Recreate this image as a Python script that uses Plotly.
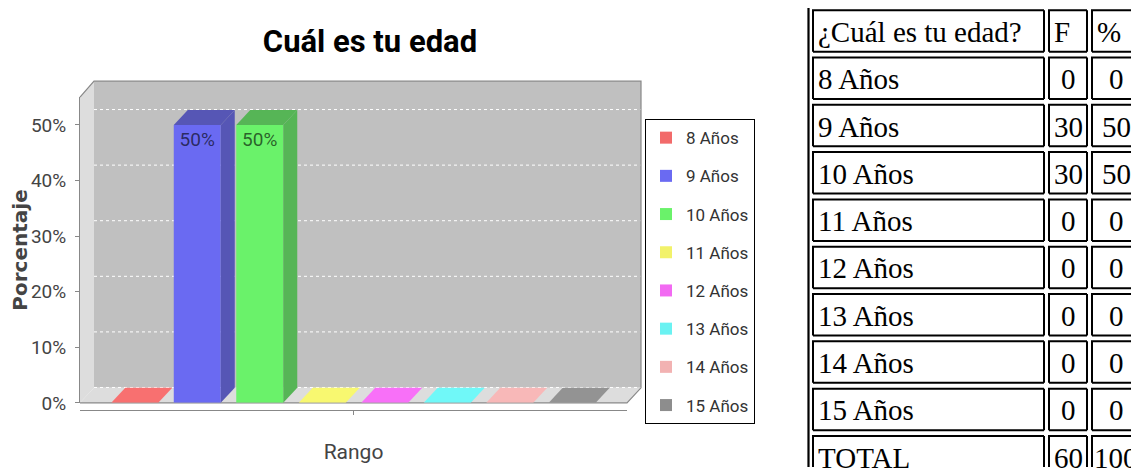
import plotly.graph_objects as go

# ---------------- data ----------------
categories = ["8 Años", "9 Años", "10 Años", "11 Años", "12 Años", "13 Años", "14 Años", "15 Años"]
frecuencia = [0, 30, 30, 0, 0, 0, 0, 0]
porcentaje = [0, 50, 50, 0, 0, 0, 0, 0]
total_label = "TOTAL"
total_f = 60
total_pct = 100
table_header = ["¿Cuál es tu edad?", "F", "%"]
chart_title = "Cuál es tu edad"
x_title = "Rango"
y_title = "Porcentaje"
x_category = "Rango"
y_ticks = [0, 0.1, 0.2, 0.3, 0.4, 0.5]
base_colors = ["#FF5555", "#5555FF", "#55FF55", "#FFFF55", "#FF55FF", "#55FFFF", "#FFAFAF", "#808080"]

# ---------------- geometry helpers ----------------
# target picture is 1139x475; page keeps the default 8px body margin
REF_W, REF_H = 1139, 475
PAGE_H = 487                 # captured page height (scaled back to 475)
K = PAGE_H / REF_H
M = 8
FW, FH = REF_W - 2 * M, PAGE_H - 2 * M
XMAX, YMAX = REF_W - M, (PAGE_H - M) / K
def px(x): return (x - M) / FW
def py(y): return 1 - (y * K - M) / FH

def hex2rgb(h):
    h = h.lstrip("#")
    return tuple(int(h[i:i + 2], 16) for i in (0, 2, 4))

def mix(c, bg, a=0.8):
    return "rgb(%d,%d,%d)" % tuple(round(a * c[i] + (1 - a) * bg[i]) for i in range(3))

def darker(c):
    return tuple(int(v * 0.7) for v in c)

WALL = (192, 192, 192)
FLOOR = (221, 221, 221)

X_L, X_R = 80, 627          # front plot area (reference px)
Y_TOP, Y_BOT = 97, 403
DX, DY = 14, 15             # 3D depth offset (reference px)
Y_MAX = 0.55
BARGAP, GROUPGAP = 0.086, 0.248
n = len(categories)

dxu = DX * 1.0 / (X_R - X_L)
dyu = DY * Y_MAX / (Y_BOT - Y_TOP)
slot = (1 - BARGAP) / n
bw = slot * (1 - GROUPGAP)

fig = go.Figure()
shapes = []
annotations = []

def poly(pts, closed=True):
    s = "M " + " L ".join("%f,%f" % (px(x), py(y)) for x, y in pts)
    return s + (" Z" if closed else "")

# ---------------- 3D box (walls / floor) ----------------
shapes.append(dict(type="path", xref="paper", yref="paper",
                   path=poly([(X_L + DX, Y_TOP - DY - 1), (X_R + DX, Y_TOP - DY - 1),
                              (X_R + DX, Y_BOT - DY), (X_L + DX, Y_BOT - DY)]),
                   fillcolor="#C0C0C0", line=dict(width=0), layer="below"))
shapes.append(dict(type="path", xref="paper", yref="paper",
                   path=poly([(X_L, Y_TOP), (X_L + DX, Y_TOP - DY - 1), (X_L + DX, Y_BOT - DY), (X_L, Y_BOT)]),
                   fillcolor="#DDDDDD", line=dict(width=0), layer="below"))
shapes.append(dict(type="path", xref="paper", yref="paper",
                   path=poly([(X_L, Y_BOT), (X_L + DX, Y_BOT - DY), (X_R + DX, Y_BOT - DY), (X_R, Y_BOT)]),
                   fillcolor="#DDDDDD", line=dict(width=0), layer="below"))
# grid lines on the back wall
for t in y_ticks:
    shapes.append(dict(type="line", xref="paper", x0=px(X_L + DX), x1=px(X_R + DX),
                       yref="y", ysizemode="pixel", yanchor=t, y0=DY * K, y1=DY * K,
                       line=dict(color="white", width=1, dash="dot"), layer="below"))
# outline
shapes.append(dict(type="path", xref="paper", yref="paper",
                   path=poly([(X_L, Y_TOP), (X_L + DX, Y_TOP - DY - 1), (X_R + DX, Y_TOP - DY - 1),
                              (X_R + DX, Y_BOT - DY), (X_R, Y_BOT), (X_L, Y_BOT)], closed=False),
                   line=dict(color="#888888", width=1.2), layer="below"))

sans = "Roboto, Lato, sans-serif"

# ---------------- bars ----------------
for i, (cat, p) in enumerate(zip(categories, porcentaje)):
    base = hex2rgb(base_colors[i])
    v = p / 100
    fig.add_trace(go.Bar(
        x=[x_category], y=[v], name=cat, legendgroup=cat,
        marker=dict(color=mix(base, WALL), line=dict(width=0)),
        text=["%d%%" % p if p > 0 else ""], textposition="inside", insidetextanchor="end",
        textangle=0, constraintext="none",
        insidetextfont=dict(family=sans, size=19, color="rgba(0,0,0,0.62)"),
        hovertemplate="%{fullData.name}: %{y:.0%}<extra></extra>",
    ))
    xl = -(1 - BARGAP) / 2 + i * slot + slot * GROUPGAP / 2
    xr = xl + bw
    if v > 0:
        side = mix(darker(base), WALL)
        shapes.append(dict(type="path", xref="x", yref="y", layer="above",
                           path="M %f,%f L %f,%f L %f,%f L %f,%f Z" % (
                               xr, 0, xr + dxu, dyu, xr + dxu, v + dyu, xr, v),
                           fillcolor=side, line=dict(width=0)))
        topc = side
    else:
        topc = mix(base, FLOOR)
    shapes.append(dict(type="path", xref="x", yref="y", layer="above",
                       path="M %f,%f L %f,%f L %f,%f L %f,%f Z" % (
                           xl, v, xl + dxu, v + dyu, xr + dxu, v + dyu, xr, v),
                       fillcolor=topc, line=dict(width=0)))

# ---------------- table ----------------
serif = "Liberation Serif, Times New Roman, serif"
TFS = 29
row_top0, row_pitch, row_h = 10, 47.35, 41.5
cols = [(813, 1044), (1049, 1087), (1092, 1145)]
num_centers = [None, 1068.5, 1116]

def box_path(a, top, b, bot):
    segs = []
    yb = min(bot, YMAX)
    xb = min(b, XMAX)
    segs.append([(a, yb), (a, top), (xb, top)])
    if b <= XMAX:
        segs.append([(b, top), (b, yb)])
    if bot <= YMAX:
        segs.append([(a, bot), (xb, bot)])
    return " ".join(poly(s, closed=False) for s in segs)

shapes.append(dict(type="path", xref="paper", yref="paper",
                   path=box_path(808.5, 4, 2000, 2000),
                   line=dict(color="black", width=2.2), layer="below"))
rows = [table_header] + [[c, str(f), str(p)] for c, f, p in zip(categories, frecuencia, porcentaje)] \
       + [[total_label, str(total_f), str(total_pct)]]
for r, row in enumerate(rows):
    top = row_top0 + r * row_pitch
    bot = top + row_h
    for c, (a, b) in enumerate(cols):
        shapes.append(dict(type="path", xref="paper", yref="paper",
                           path=box_path(a, top, b, bot),
                           line=dict(color="black", width=2), layer="below"))
        if c == 0 or r == 0:
            xx, anchor = px(a + 3), "left"
        else:
            xx, anchor = px(num_centers[c]), "center"
        annotations.append(dict(text=row[c], xref="paper", yref="paper", x=xx, xanchor=anchor,
                                y=py((top + bot) / 2 + 1), yanchor="middle", showarrow=False,
                                font=dict(family=serif, size=TFS, color="black")))

fig.update_layout(
    width=FW, height=FH, autosize=False,
    margin=dict(l=0, r=0, t=0, b=0),
    paper_bgcolor="white", plot_bgcolor="rgba(0,0,0,0)",
    barmode="group", bargap=BARGAP, bargroupgap=GROUPGAP,
    title=dict(text=chart_title, x=px(370), xanchor="center", y=py(41), yanchor="middle",
               xref="paper", yref="paper",
               font=dict(family=sans, size=31, color="black", weight="bold")),
    xaxis=dict(domain=[px(X_L), px(X_R)], type="category", range=[-0.5, 0.5],
               anchor="free", position=py(410), showline=True, linecolor="#888888", linewidth=1,
               ticks="outside", ticklen=4, tickcolor="#888888", showticklabels=False,
               showgrid=False, zeroline=False,
               title=dict(text=x_title, standoff=30, font=dict(family=sans, size=21, color="#444444"))),
    yaxis=dict(domain=[py(Y_BOT), py(Y_TOP)], range=[0, Y_MAX], tickvals=y_ticks, tickformat=".0%",
               showline=True, linecolor="#888888", linewidth=1, ticks="outside", ticklen=4,
               tickcolor="#888888", showgrid=False, zeroline=False, ticklabelstandoff=5,
               tickfont=dict(family=sans, size=19, color="#444444"),
               title=dict(text=y_title, standoff=8,
                          font=dict(family="DejaVu Sans, sans-serif", size=20, color="#444444", weight="bold"))),
    legend=dict(x=px(645), y=py(119), xanchor="left", yanchor="top",
                bordercolor="black", borderwidth=1, bgcolor="white",
                font=dict(family=sans, size=17, color="#333333"),
                itemwidth=30, tracegroupgap=13.1, traceorder="grouped"),
    shapes=shapes, annotations=annotations, showlegend=True,
)

fig.write_html("out.html", config={"displayModeBar": False})
